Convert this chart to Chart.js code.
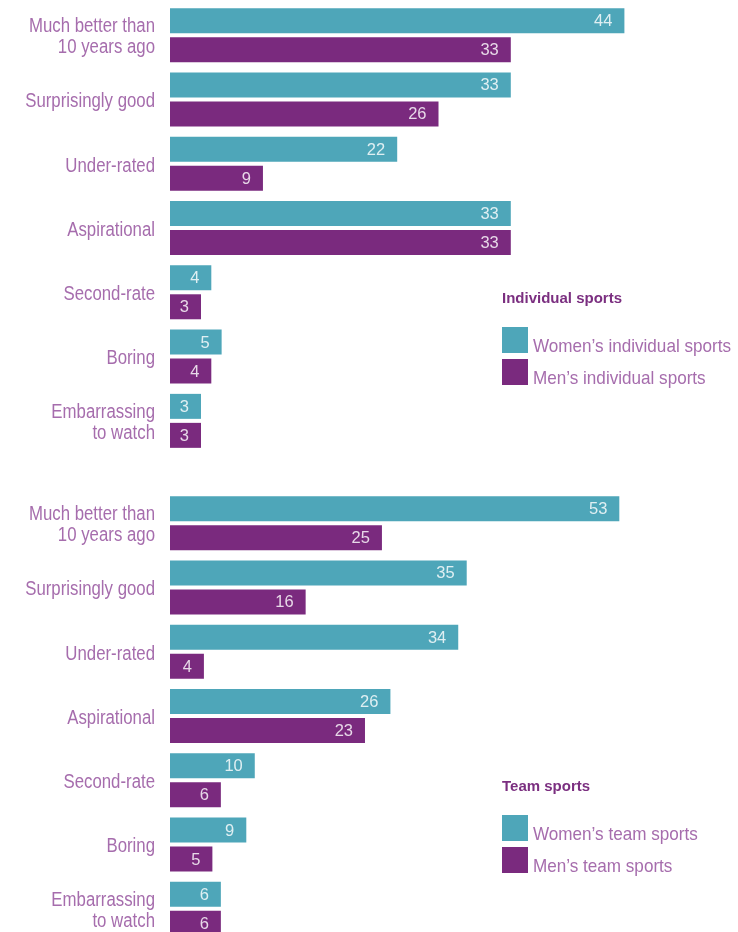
<!DOCTYPE html>
<html>
<head>
<meta charset="utf-8">
<script src="https://cdn.jsdelivr.net/npm/chart.js@4.4.1/dist/chart.umd.min.js"></script>
<style>
  html, body { margin: 0; padding: 0; background: #fff; overflow: hidden; }
  #page { position: relative; width: 738px; height: 932px; overflow: hidden; }
  canvas { position: absolute; left: 0; }
  #chartIndividual { top: 3px; }
  #chartTeam { top: 491px; }
  .legend { position: absolute; left: 502px; font-family: 'Liberation Sans', Arial, sans-serif; }
  .legend .title { font-weight: bold; font-size: 15px; line-height: 15px; color: #7b2f80; margin-bottom: 22px; }
  .legend .item { display: flex; align-items: flex-end; height: 26px; margin-bottom: 5.5px; }
  .legend .swatch { width: 26px; height: 26px; margin-right: 5px; flex: none; }
  .legend .label { display: inline-block; font-size: 19px; line-height: 19px; color: #a66dad; position: relative; top: 2px;
                   white-space: nowrap; transform: scaleX(0.9); transform-origin: left center; }
  #legendIndividual { top: 290px; }
  #legendTeam { top: 778px; }
</style>
</head>
<body>
<div id="page">
  <canvas id="chartIndividual" width="738" height="450"></canvas>
  <canvas id="chartTeam" width="738" height="450"></canvas>
  <div class="legend" id="legendIndividual"></div>
  <div class="legend" id="legendTeam"></div>
</div>
<script>
// answers, % of respondents
var categories = [
  ['Much better than', '10 years ago'],
  'Surprisingly good',
  'Under-rated',
  'Aspirational',
  'Second-rate',
  'Boring',
  ['Embarrassing', 'to watch']
];
var womenIndividual = [44, 33, 22, 33, 4, 5, 3];
var menIndividual   = [33, 26, 9, 33, 3, 4, 3];
var womenTeam = [53, 35, 34, 26, 10, 9, 6];
var menTeam   = [25, 16, 4, 23, 6, 5, 6];

var teal = '#4ea6b9';
var purple = '#7a2a7e';
var labelColor = '#a66dad';
var baseFont = "'Liberation Sans', Arial, sans-serif";

// value written inside the end of every bar
var barValues = {
  id: 'barValues',
  afterDatasetsDraw: function(chart) {
    var ctx = chart.ctx;
    ctx.save();
    ctx.font = '16.5px ' + baseFont;
    ctx.textAlign = 'right';
    ctx.textBaseline = 'middle';
    ctx.fillStyle = 'rgba(255,255,255,0.82)';
    chart.data.datasets.forEach(function(ds, i) {
      chart.getDatasetMeta(i).data.forEach(function(bar, k) {
        ctx.fillText(ds.data[k], bar.x - 12, bar.y + 1);
      });
    });
    ctx.restore();
  }
};

// category names, drawn narrow (no condensed font installed)
var categoryLabels = {
  id: 'categoryLabels',
  afterDraw: function(chart) {
    var ctx = chart.ctx;
    var scale = chart.scales.y;
    ctx.save();
    ctx.font = '20px ' + baseFont;
    ctx.fillStyle = labelColor;
    ctx.textAlign = 'right';
    ctx.textBaseline = 'alphabetic';
    chart.data.labels.forEach(function(label, i) {
      var lines = [].concat(label);
      var py = scale.getPixelForTick(i);
      lines.forEach(function(line, j) {
        var dy = (j - (lines.length - 1) / 2) * 21;
        ctx.save();
        ctx.translate(scale.right - 15, py + dy + 7.8);
        ctx.scale(0.84, 1);
        ctx.fillText(line, 0, 0);
        ctx.restore();
      });
    });
    ctx.restore();
  }
};

function makeChart(id, women, men, womenLabel, menLabel, max) {
  var ctx = document.getElementById(id).getContext('2d');
  return new Chart(ctx, {
    type: 'bar',
    data: {
      labels: categories,
      datasets: [
        { label: womenLabel, data: women, backgroundColor: teal },
        { label: menLabel, data: men, backgroundColor: purple }
      ]
    },
    options: {
      indexAxis: 'y',
      responsive: false,
      animation: false,
      events: [],
      categoryPercentage: 0.902,
      barPercentage: 0.862,
      layout: { padding: 0 },
      plugins: { legend: { display: false }, tooltip: { enabled: false } },
      scales: {
        x: { display: false, min: 0, max: max },
        y: {
          grid: { display: false, drawTicks: false },
          border: { display: false },
          ticks: { display: false, autoSkip: false },
          afterFit: function(scale) {
            scale.width = 170;
            scale.paddingTop = 0;
            scale.paddingBottom = 0;
          }
        }
      }
    },
    plugins: [barValues, categoryLabels]
  });
}

function buildLegend(id, title, chart) {
  var box = document.getElementById(id);
  var html = '<div class="title">' + title + '</div>';
  chart.data.datasets.forEach(function(ds) {
    html += '<div class="item"><span class="swatch" style="background:' + ds.backgroundColor +
      '"></span><span class="label">' + ds.label + '</span></div>';
  });
  box.innerHTML = html;
}

var individual = makeChart('chartIndividual', womenIndividual, menIndividual,
  'Women\u2019s individual sports', 'Men\u2019s individual sports', 55);
var team = makeChart('chartTeam', womenTeam, menTeam,
  'Women\u2019s team sports', 'Men\u2019s team sports', 67);

buildLegend('legendIndividual', 'Individual sports', individual);
buildLegend('legendTeam', 'Team sports', team);
</script>
</body>
</html>
